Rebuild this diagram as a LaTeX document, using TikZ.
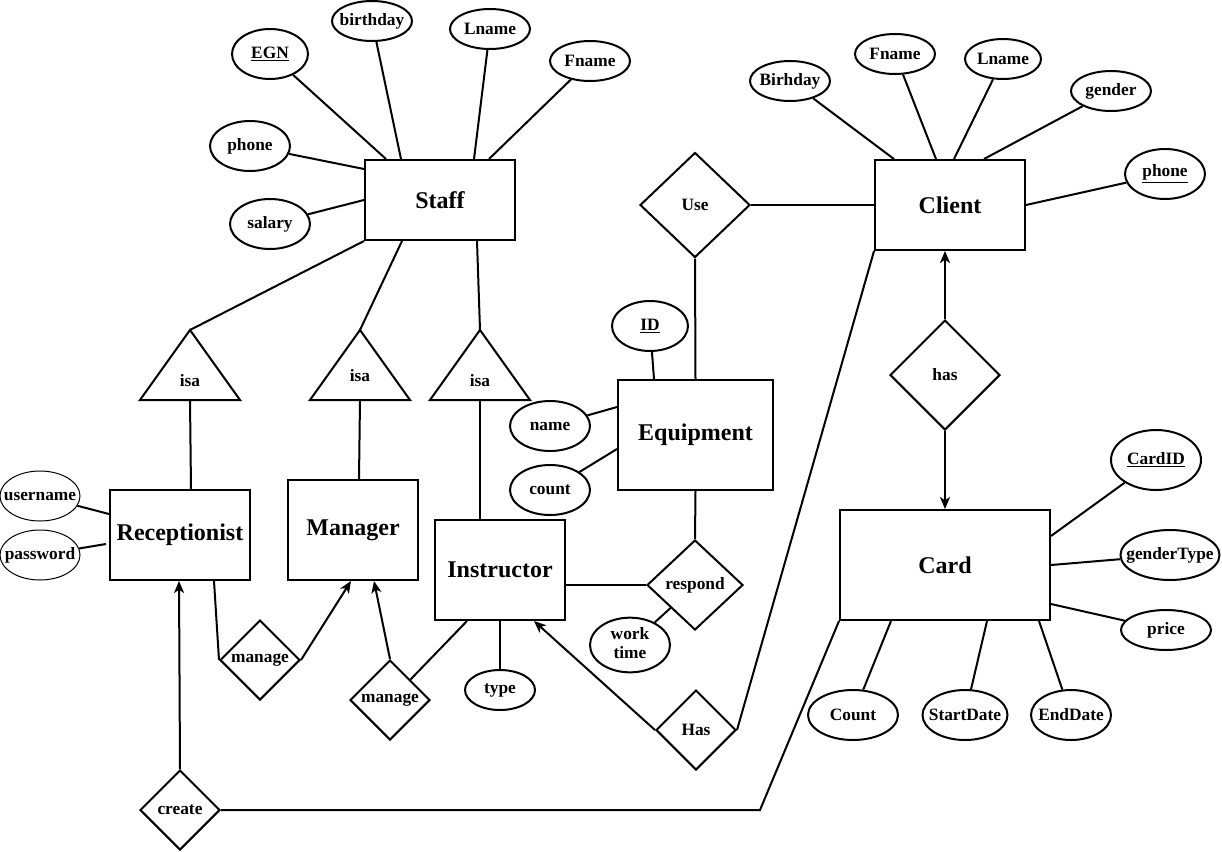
\documentclass[tikz,border=0pt]{standalone}
\usepackage{fontspec}
\setmainfont{Liberation Serif}
\usetikzlibrary{shapes.geometric,calc,arrows.meta}
\newcommand{\zw}[1]{\makebox[0pt]{#1}}
\begin{document}
\begin{tikzpicture}[x=0.75pt,y=-0.75pt, line width=1.5pt,
 ent/.style={draw, rectangle, inner sep=0pt, font=\fontsize{18}{20}\selectfont\bfseries},
 attr/.style={draw, ellipse, inner sep=0pt, font=\fontsize{13}{15}\selectfont\bfseries},
 thinattr/.style={attr, line width=0.75pt},
 rel/.style={draw, diamond, inner sep=0pt, aspect=1, font=\fontsize{13}{15}\selectfont\bfseries},
 lbl/.style={inner sep=0pt, font=\fontsize{13}{15}\selectfont\bfseries},
 arr/.style={-{Stealth[length=9pt,width=7.5pt,inset=2.5pt]}}]
\useasboundingbox (0,0) rectangle (1222,851);

% entities
\node[ent, minimum width=112.5pt, minimum height=60pt] (Staff) at (440,200) {Staff};
\node[ent, minimum width=112.5pt, minimum height=67.5pt] (Client) at (950,205) {Client};
\node[ent, minimum width=116.25pt, minimum height=82.5pt] (Equip) at (695.5,435) {Equipment};
\node[ent, minimum width=105pt, minimum height=67.5pt] (Recep) at (180,535) {Receptionist};
\node[ent, minimum width=97.5pt, minimum height=75pt] (Manager) at (353,530) {Manager};
\node[ent, minimum width=97.5pt, minimum height=75pt] (Instr) at (500,570) {Instructor};
\node[ent, minimum width=157.5pt, minimum height=82.5pt] (Card) at (945,565) {Card};

% Staff attributes
\node[attr, minimum width=57pt, minimum height=37.5pt] (EGN) at (270,54) {\zw{\underline{EGN}}};
\node[attr, minimum width=60pt, minimum height=30pt] (birthday) at (372,21) {\zw{birthday}};
\node[attr, minimum width=60pt, minimum height=30pt] (SLname) at (490,29) {\zw{Lname}};
\node[attr, minimum width=60pt, minimum height=30pt] (SFname) at (590,61) {\zw{Fname}};
\node[attr, minimum width=60pt, minimum height=37.5pt] (Sphone) at (250,146) {\zw{phone}};
\node[attr, minimum width=60pt, minimum height=37.5pt] (salary) at (270,224) {\zw{salary}};

% Client attributes
\node[attr, minimum width=60pt, minimum height=30pt] (Birhday) at (790,81) {\zw{Birhday}};
\node[attr, minimum width=60pt, minimum height=30pt] (CFname) at (895,54) {\zw{Fname}};
\node[attr, minimum width=57pt, minimum height=30pt] (CLname) at (1003,59) {\zw{Lname}};
\node[attr, minimum width=60pt, minimum height=30pt] (gender) at (1111,91) {\zw{gender}};
\node[attr, minimum width=60pt, minimum height=37.5pt] (Cphone) at (1165,174) {\zw{\underline{phone}}};

% Equipment attributes
\node[attr, minimum width=57pt, minimum height=37.5pt] (ID) at (650,326) {\zw{\underline{ID}}};
\node[attr, minimum width=60pt, minimum height=37.5pt] (name) at (550,426) {\zw{name}};
\node[attr, minimum width=60pt, minimum height=37.5pt] (count) at (550,490) {\zw{count}};

% Instructor / respond attributes
\node[attr, minimum width=52.5pt, minimum height=30pt] (type) at (500,690) {\zw{type}};
\node[attr, minimum width=60pt, minimum height=37.5pt] (worktime) at (630,645) {\zw{\begin{tabular}{@{}c@{}}work\\[-1pt]time\end{tabular}}};

% Receptionist attributes
\node[thinattr, minimum width=60pt, minimum height=37.5pt] (username) at (40,496) {\zw{username}};
\node[thinattr, minimum width=60pt, minimum height=37.5pt] (password) at (40,555) {\zw{password}};

% Card attributes
\node[attr, minimum width=67.5pt, minimum height=45pt] (CardID) at (1156,460) {\zw{\underline{CardID}}};
\node[attr, minimum width=74.25pt, minimum height=37.5pt] (genderType) at (1170,555) {\zw{genderType}};
\node[attr, minimum width=67.5pt, minimum height=30pt] (price) at (1166,630) {\zw{price}};
\node[attr, minimum width=67.5pt, minimum height=37.5pt] (Count) at (853,715) {\zw{Count}};
\node[attr, minimum width=63.75pt, minimum height=37.5pt] (StartDate) at (965,715) {\zw{StartDate}};
\node[attr, minimum width=60pt, minimum height=37.5pt] (EndDate) at (1071,715) {\zw{EndDate}};

% relationships
\node[rel, minimum width=82.5pt, minimum height=78.75pt] (relUse) at (695,205) {\zw{Use}};
\node[rel, minimum width=82.5pt, minimum height=82.5pt] (relhas) at (945,375) {\zw{has}};
\node[rel, minimum width=72pt, minimum height=67.5pt] (respond) at (695,585) {\zw{respond}};
\node[rel, minimum width=60pt, minimum height=60pt] (relHas) at (696,730) {\zw{Has}};
\node[rel, minimum width=60pt, minimum height=60pt] (manage1) at (260,660) {\zw{manage}};
\node[rel, minimum width=60pt, minimum height=60pt] (manage2) at (390,700) {\zw{manage}};
\node[rel, minimum width=60pt, minimum height=60pt] (create) at (180,810) {\zw{create}};

% isa triangles
\coordinate (isa1t) at (190,330); \coordinate (isa1b) at (190,400);
\coordinate (isa2t) at (360,330); \coordinate (isa2b) at (360,400);
\coordinate (isa3t) at (480,330); \coordinate (isa3b) at (480,400);
\draw[line join=miter] (140,400) -- (isa1t) -- (240,400) -- cycle;
\draw[line join=miter] (310,400) -- (isa2t) -- (410,400) -- cycle;
\draw[line join=miter] (430,400) -- (isa3t) -- (530,400) -- cycle;
\node[lbl] (isa1) at (190,381) {isa};
\node[lbl] (isa2) at (360,376) {isa};
\node[lbl] (isa3) at (480,381) {isa};

% Staff connectors
\draw (EGN) -- ($(Staff.north west)+(22,0)$);
\draw (birthday) -- ($(Staff.north west)+(37,0)$);
\draw (SLname) -- ($(Staff.north west)+(110,0)$);
\draw (SFname) -- ($(Staff.north west)+(125,0)$);
\draw (Sphone) -- ($(Staff.north west)+(0,10)$);
\draw (salary) -- (Staff.west);
\draw (Staff.south west) -- (isa1t);
\draw ($(Staff.south west)+(38,0)$) -- (isa2t);
\draw ($(Staff.south west)+(113,0)$) -- (isa3t);
\draw (isa1b) -- ($(Recep.north west)+(82,0)$);
\draw (isa2b) -- ($(Manager.north west)+(72,0)$);
\draw (isa3b) -- ($(Instr.north west)+(46,0)$);

% Client connectors
\draw (Birhday) -- ($(Client.north west)+(20,0)$);
\draw (CFname) -- ($(Client.north west)+(62,0)$);
\draw (CLname) -- ($(Client.north west)+(80,0)$);
\draw (gender) -- ($(Client.north west)+(110,0)$);
\draw (Cphone) -- (Client.east);
\draw (relUse.east) -- (relUse.east -| Client.west);
\draw (relUse.south) -- (Equip.north);
\draw[arr] (relhas.north) -- (relhas.north |- Client.south);
\draw[arr] (relhas.south) -- (Card.north);

% Equipment connectors
\draw (ID) -- ($(Equip.north west)+(37,0)$);
\draw (name) -- ($(Equip.north west)+(0,28)$);
\draw (count) -- ($(Equip.north west)+(0,70)$);
\draw (Equip.south) -- (respond.north);
\draw (respond.west) -- (respond.west -| Instr.east);
\draw (worktime) -- (respond.south west);

% Receptionist / Manager / Instructor connectors
\draw (username) -- ($(Recep.north west)+(0,25)$);
\draw (password) -- ($(Recep.north west)+(-3,55)$);
\draw ($(Recep.south west)+(105,0)$) -- (manage1.west);
\draw[arr] (manage1.east) -- ($(Manager.south west)+(64,0)$);
\draw[arr] (manage2.north) -- ($(Manager.south west)+(87,0)$);
\draw (manage2.north east) -- ($(Instr.south west)+(33,0)$);
\draw (Instr.south) -- (type);
\draw[arr] (relHas.west) -- ($(Instr.south west)+(100,0)$);
\draw (relHas.east) -- (Client.south west);
\draw[arr] (create.north) -- ($(Recep.south west)+(70,0)$);
\coordinate (bend) at (760,810);
\draw[line join=miter] (create.east) -- (bend) -- (Card.south west);

% Card connectors
\draw (CardID) -- ($(Card.north east)+(0,27)$);
\draw (genderType) -- (Card.east);
\draw (price) -- ($(Card.north east)+(0,95)$);
\draw (Count) -- ($(Card.south west)+(52,0)$);
\draw (StartDate) -- ($(Card.south west)+(148,0)$);
\draw (EndDate) -- ($(Card.south west)+(200,0)$);
\end{tikzpicture}
\end{document}
